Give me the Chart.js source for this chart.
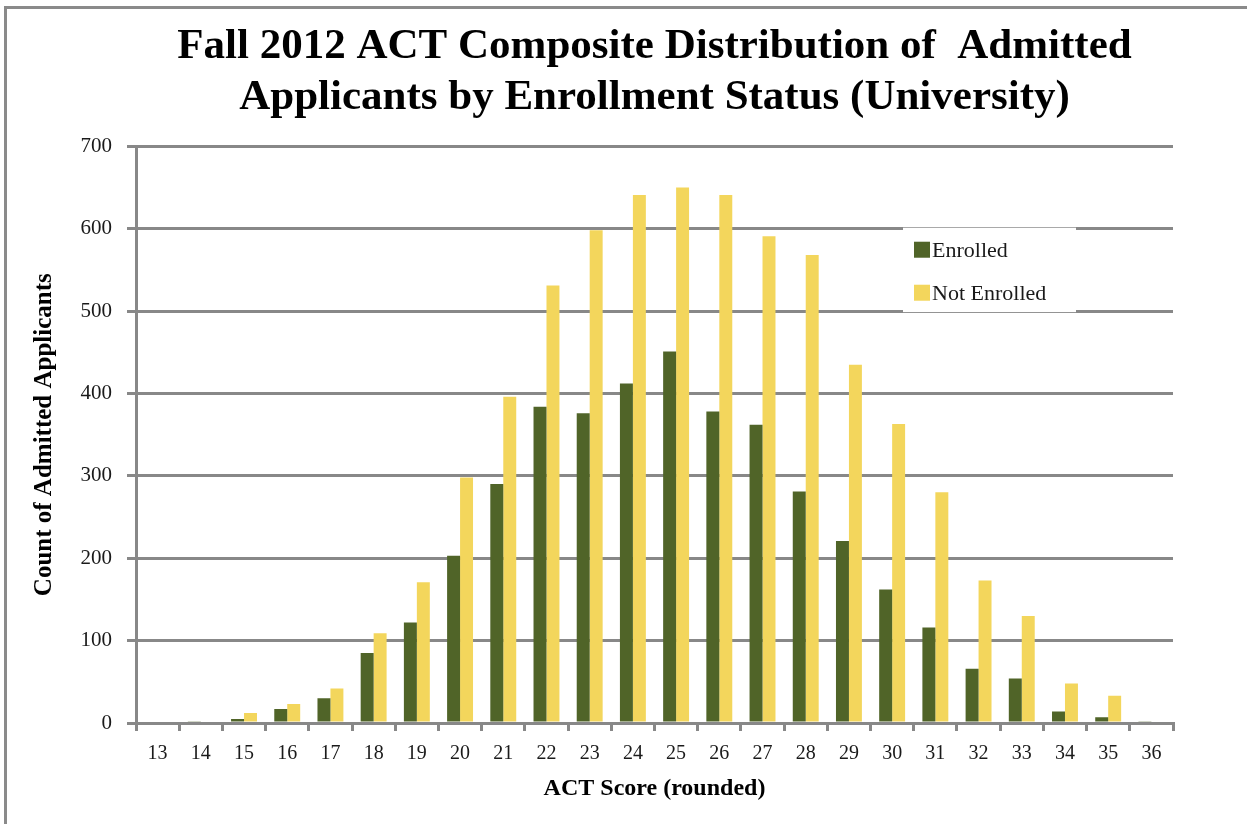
<!DOCTYPE html>
<html>
<head>
<meta charset="utf-8">
<script src="https://cdn.jsdelivr.net/npm/chart.js@4.4.1/dist/chart.umd.min.js"></script>
<style>
  html, body { margin: 0; padding: 0; background: #fff; }
  #wrap { position: absolute; left: 0; top: 0; width: 1247px; height: 824px; }
  #frame { position: absolute; left: 4px; top: 6px; right: 0; bottom: 0; border-top: 3px solid #8a8a8a; border-left: 3px solid #8a8a8a; pointer-events: none; }
  canvas { position: absolute; left: 0; top: 0; }
</style>
</head>
<body>
<div id="wrap">
  <canvas id="c" width="1247" height="824"></canvas>
  <div id="frame"></div>
</div>
<script>
const titleLines = ["Fall 2012 ACT Composite Distribution of  Admitted", "Applicants by Enrollment Status (University)"];
const categories = ["13","14","15","16","17","18","19","20","21","22","23","24","25","26","27","28","29","30","31","32","33","34","35","36"];
const enrolled =    [0, 2, 5, 17, 30, 85, 122, 203, 290, 384, 376, 412, 451, 378, 362, 281, 221, 162, 116, 66, 54, 14, 7, 2];
const notEnrolled = [0, 0, 12, 23, 42, 109, 171, 298, 396, 531, 598, 641, 650, 641, 591, 568, 435, 363, 280, 173, 130, 48, 33, 0];
const yTicks = [0, 100, 200, 300, 400, 500, 600, 700];
const seriesNames = ["Enrolled", "Not Enrolled"];
const seriesColors = ["#506428", "#F3D65C"];
const xTitle = "ACT Score (rounded)";
const yTitle = "Count of Admitted Applicants";

const FONT = "'Liberation Serif', 'DejaVu Serif', serif";
const GRID = "#888888";

const legendPlugin = {
  id: 'boxLegend',
  afterDatasetsDraw(chart) {
    const ctx = chart.ctx;
    const y = chart.scales.y;
    const top = y.getPixelForValue(600);
    const bottom = y.getPixelForValue(500);
    const left = 903, right = 1076;
    ctx.save();
    ctx.fillStyle = '#ffffff';
    ctx.fillRect(left, top - 1, right - left, bottom - top + 2);
    ctx.font = "22px " + FONT;
    ctx.textBaseline = 'middle';
    const rows = [top + 21, top + 64];
    chart.data.datasets.forEach((ds, i) => {
      ctx.fillStyle = ds.backgroundColor;
      ctx.fillRect(914, rows[i] - 8, 16, 16);
      ctx.fillStyle = '#1a1a1a';
      ctx.fillText(ds.label, 932, rows[i] + 1);
    });
    ctx.restore();
  }
};

new Chart(document.getElementById('c'), {
  type: 'bar',
  data: {
    labels: categories,
    datasets: [
      { label: seriesNames[0], data: enrolled, backgroundColor: seriesColors[0] },
      { label: seriesNames[1], data: notEnrolled, backgroundColor: seriesColors[1] }
    ]
  },
  options: {
    responsive: false,
    animation: false,
    devicePixelRatio: 1,
    layout: { padding: { left: 0, right: 74, top: 0, bottom: 0 } },
    datasets: { bar: { categoryPercentage: 0.6, barPercentage: 1.0 } },
    plugins: {
      legend: { display: false },
      tooltip: { enabled: false },
      title: {
        display: true,
        fullSize: false,
        text: titleLines,
        color: '#000',
        font: { family: FONT, size: 43, weight: 'bold', lineHeight: 1.19 },
        padding: { top: 21, bottom: 23 }
      }
    },
    scales: {
      x: {
        offset: true,
        grid: { display: true, drawOnChartArea: false, drawTicks: true, tickLength: 8, color: GRID, lineWidth: 3, offset: true },
        border: { display: true, color: GRID, width: 3 },
        ticks: { color: '#1a1a1a', font: { family: FONT, size: 20 }, padding: 11, maxRotation: 0, autoSkip: false },
        title: { display: true, text: xTitle, color: '#000', font: { family: FONT, size: 24, weight: 'bold' }, padding: { top: 0, bottom: 21 } },
        afterFit(scale) { scale.height = 101; }
      },
      y: {
        min: 0, max: 700,
        afterBuildTicks(scale) { scale.ticks = yTicks.map(v => ({ value: v })); },
        grid: { color: GRID, lineWidth: 3, drawTicks: true, tickLength: 9 },
        border: { display: true, color: GRID, width: 3 },
        ticks: { color: '#1a1a1a', font: { family: FONT, size: 21 }, padding: 15 },
        title: { display: true, text: yTitle, color: '#000', font: { family: FONT, size: 25, weight: 'bold' }, padding: { top: 30, bottom: 0 } },
        afterFit(scale) { scale.width = 136; }
      }
    }
  },
  plugins: [legendPlugin]
});
</script>
</body>
</html>
